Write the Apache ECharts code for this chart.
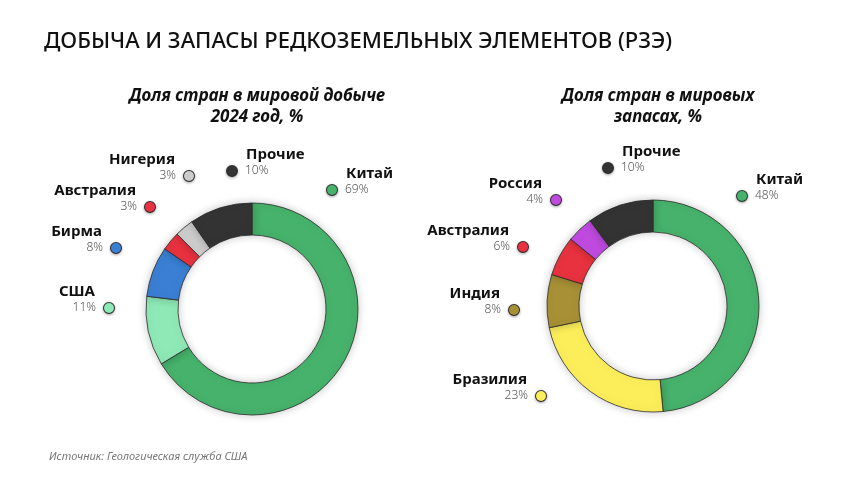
<!DOCTYPE html>
<html>
<head>
<meta charset="utf-8">
<script src="https://cdn.jsdelivr.net/npm/echarts@6/dist/echarts.min.js"></script>
<style>
  html, body { margin: 0; padding: 0; background: #fff; }
  #chart { width: 860px; height: 484px; }
</style>
</head>
<body>
<div id="chart"></div>
<script>
// доля стран в мировой добыче, 2024
var prodNames = ['Китай', 'США', 'Бирма', 'Австралия', 'Нигерия', 'Прочие'];
var prodValues = [69, 11, 8, 3, 3, 10];
var prodColors = ['#46b26b', '#8ee9b6', '#3a7fd4', '#e8323f', '#cccccc', '#333333'];

// доля стран в мировых запасах
var resNames = ['Китай', 'Бразилия', 'Индия', 'Австралия', 'Россия', 'Прочие'];
var resValues = [48, 23, 8, 6, 4, 10];
var resColors = ['#46b26b', '#fcee5a', '#a89036', '#e8323f', '#c04ae0', '#333333'];

// где стоят подписи (центр точки-маркера) и с какой стороны текст
var prodLabelPos = [[333, 190, 'left'], [108, 308, 'right'], [115, 248, 'right'], [149, 207, 'right'], [188, 176, 'right'], [233, 171, 'left']];
var resLabelPos = [[743, 196, 'left'], [540, 396, 'right'], [513, 310, 'right'], [522, 247, 'right'], [555, 200, 'right'], [609, 168, 'left']];

var FONT = '"Noto Sans", sans-serif';

function makeData(names, values, colors, pos) {
    return names.map(function (n, i) {
        var txt = pos[i][2] == 'right'
            ? '{n|' + n + '}{sp|}\n{v|' + values[i] + '%}{gap|}{dot|}'
            : '{sp|}{n|' + n + '}\n{dot|}{gap|}{v|' + values[i] + '%}';
        return {
            name: n,
            value: values[i],
            itemStyle: { color: colors[i] },
            label: {
                formatter: txt,
                rich: {
                    n: { fontFamily: FONT, fontSize: 15, fontWeight: 'bold', color: '#111', lineHeight: 16 },
                    v: { fontFamily: FONT, fontSize: 12, fontWeight: 300, color: '#555', lineHeight: 16 },
                    sp: { width: 19, height: 10 },
                    gap: { width: 8, height: 10 },
                    dot: {
                        width: 10, height: 10, borderRadius: 6,
                        backgroundColor: colors[i], borderColor: '#333', borderWidth: 1,
                        shadowBlur: 3, shadowColor: 'rgba(0,0,0,0.3)', shadowOffsetY: 1
                    }
                }
            }
        };
    });
}

function makePie(names, values, colors, pos, center) {
    return {
        type: 'pie',
        center: center,
        radius: [74, 106],
        startAngle: 90,
        clockwise: true,
        avoidLabelOverlap: false,
        silent: true,
        itemStyle: {
            borderColor: '#2b2b2b',
            borderWidth: 0.8,
            shadowBlur: 8,
            shadowColor: 'rgba(0,0,0,0.22)'
        },
        label: { show: true, position: 'outside' },
        labelLine: { show: false },
        labelLayout: function (params) {
            var p = pos[params.dataIndex];
            return {
                x: p[2] == 'right' ? p[0] + 6 : p[0] - 6,
                y: p[1] - 8,
                align: p[2] == 'right' ? 'right' : 'left',
                verticalAlign: 'middle'
            };
        },
        data: makeData(names, values, colors, pos)
    };
}

var myChart = echarts.init(document.getElementById('chart'));
myChart.setOption({
    backgroundColor: '#ffffff',
    animation: false,
    title: [{
        text: 'ДОБЫЧА И ЗАПАСЫ РЕДКОЗЕМЕЛЬНЫХ ЭЛЕМЕНТОВ (РЗЭ)',
        left: 39,
        top: 26,
        textStyle: { fontFamily: FONT, fontSize: 22, fontWeight: 500, color: '#111' }
    }, {
        text: 'Доля стран в мировой добыче\n2024 год, %',
        left: 252,
        top: 81,
        textAlign: 'center',
        textStyle: { fontFamily: FONT, fontSize: 17, fontWeight: 'bold', fontStyle: 'italic', color: '#111', lineHeight: 21 }
    }, {
        text: 'Доля стран в мировых\nзапасах, %',
        left: 653,
        top: 81,
        textAlign: 'center',
        textStyle: { fontFamily: FONT, fontSize: 17, fontWeight: 'bold', fontStyle: 'italic', color: '#111', lineHeight: 21 }
    }, {
        text: 'Источник: Геологическая служба США',
        left: 44,
        top: 446,
        textStyle: { fontFamily: FONT, fontSize: 11, fontWeight: 'normal', fontStyle: 'italic', color: '#777' }
    }],
    series: [
        makePie(prodNames, prodValues, prodColors, prodLabelPos, [252, 309]),
        makePie(resNames, resValues, resColors, resLabelPos, [653, 306])
    ]
});
</script>
</body>
</html>
